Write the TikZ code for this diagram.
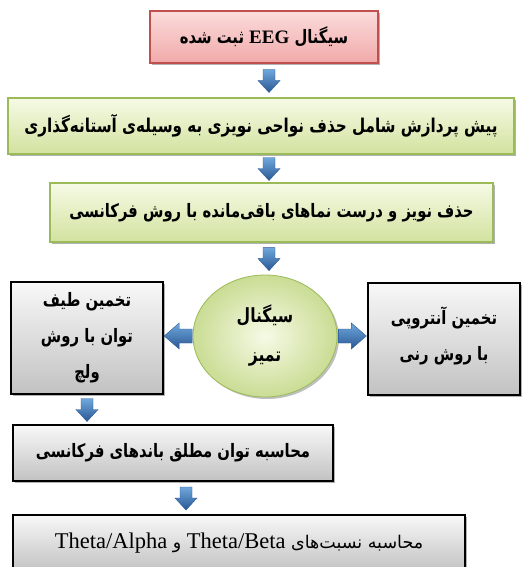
\documentclass[tikz,border=0pt]{standalone}
\usepackage{fontspec}
\newfontfamily\fafont[Script=Arabic, FakeStretch=0.8]{DejaVu Sans}
\newfontfamily\fafontw[Script=Arabic]{DejaVu Sans}
\newfontfamily\enfont{Liberation Serif}
\TeXXeTstate=1
\usetikzlibrary{shapes.geometric,shadows,calc}
\definecolor{redfillA}{HTML}{FBDCDC}
\definecolor{redfillB}{HTML}{F1A9A9}
\definecolor{redline}{HTML}{C0504D}
\definecolor{grnfillA}{HTML}{F6FAE6}
\definecolor{grnfillB}{HTML}{D2E29E}
\definecolor{grnline}{HTML}{9BBB59}
\definecolor{gryfillA}{HTML}{F8F8F8}
\definecolor{gryfillB}{HTML}{C2C2C2}
\definecolor{arrlight}{HTML}{6FA8DC}
\definecolor{arrdark}{HTML}{2A5794}
\newcommand\fa[1]{\beginR#1\endR}
\newcommand\en[1]{\beginL{\enfont #1}\endL}
\begin{document}
\begin{tikzpicture}[x=1pt,y=-1pt,
  base/.style={rectangle, inner sep=2pt, align=center,
    font=\fafont\bfseries\fontsize{18.5}{36}\selectfont,
    drop shadow={shadow xshift=2pt, shadow yshift=-2pt, opacity=0.3, fill=black}},
  redbox/.style={base, draw=redline, line width=1.2pt, top color=redfillA, bottom color=redfillB},
  grnbox/.style={base, draw=grnline, line width=1.2pt, top color=grnfillA, bottom color=grnfillB},
  grybox/.style={base, draw=black, line width=1.6pt, top color=gryfillA, bottom color=gryfillB},
  clean/.style={ellipse, inner sep=0pt, align=center, draw=grnline, line width=0.8pt,
    inner color=grnfillA, outer color=grnfillB!85!grnline,
    font=\fafont\bfseries\fontsize{19.5}{39}\selectfont,
    drop shadow={shadow xshift=2pt, shadow yshift=-2pt, opacity=0.25, fill=black}},
  darr/.pic={\shade[top color=arrlight, bottom color=arrdark, draw=arrdark, line width=0.4pt]
    (-6,-11) -- (6,-11) -- (6,0) -- (11,0) -- (0,12) -- (-11,0) -- (-6,0) -- cycle;},
  larr/.pic={\shade[top color=arrlight, bottom color=arrdark, draw=arrdark, line width=0.4pt]
    (14,-7) -- (14,7) -- (1,7) -- (1,13) -- (-14,0) -- (1,-13) -- (1,-7) -- cycle;},
  rarr/.pic={\shade[top color=arrlight, bottom color=arrdark, draw=arrdark, line width=0.4pt]
    (-14,-7) -- (-14,7) -- (-1,7) -- (-1,13) -- (14,0) -- (-1,-13) -- (-1,-7) -- cycle;}
]
\path[use as bounding box, fill=white] (0,0) rectangle (531,567);

\node[redbox, minimum width=228pt, minimum height=52pt] (b1) at (264,37)
  {\fa{سیگنال \en{\bfseries\fontsize{19}{20}\selectfont EEG} ثبت شده}};
\node[grnbox, minimum width=506pt, minimum height=56pt, font=\fafont\bfseries\fontsize{19}{36}\selectfont] (b2) at (261,126)
  {\fa{پیش پردازش شامل حذف نواحی نویزی به وسیله‌ی آستانه‌گذاری}};
\node[grnbox, minimum width=443pt, minimum height=59pt] (b3) at (271.5,212.5)
  {\fa{حذف نویز و درست نماهای باقی‌مانده با روش فرکانسی}};
\node[clean, minimum width=144pt, minimum height=122pt] (cl) at (265,336)
  {\fa{سیگنال}\\\fa{تمیز}};
\node[grybox, minimum width=152pt, minimum height=112pt] (wl) at (87,338)
  {\fa{تخمین طیف}\\\fa{توان با روش}\\\fa{ولچ}};
\node[grybox, minimum width=152pt, minimum height=112pt] (rn) at (444,339)
  {\fa{تخمین آنتروپی}\\\fa{با روش رنی}\\[-26pt]};
\node[grybox, minimum width=320pt, minimum height=56pt] (b5) at (173,453)
  {\fa{محاسبه توان مطلق باندهای فرکانسی}};
\node[grybox, minimum width=452pt, minimum height=56pt, font=\fafontw\fontsize{17.5}{36}\selectfont] (b6) at (239,543)
  {\fa{محاسبه نسبت‌های \en{\fontsize{22.5}{24}\selectfont Theta/Beta} و \en{\fontsize{22.5}{24}\selectfont Theta/Alpha}}};

\coordinate (ax) at (269,0);
\pic at ($(b1.south -| ax)!.5!(b2.north -| ax)$) {darr};
\pic at ($(b2.south -| ax)!.5!(b3.north -| ax)$) {darr};
\pic at ($(b3.south -| ax)!.5!(cl.north -| ax)$) {darr};
\pic at ($(cl.west)!.5!(wl.east |- cl.west)$) {larr};
\pic at ($(cl.east)!.5!(rn.west |- cl.east)$) {rarr};
\pic at ($(wl.south)!.5!(b5.north -| wl.south)$) {darr};
\pic at ($(b5.south -| 186,0)!.5!(b6.north -| 186,0)$) {darr};
\end{tikzpicture}
\end{document}
